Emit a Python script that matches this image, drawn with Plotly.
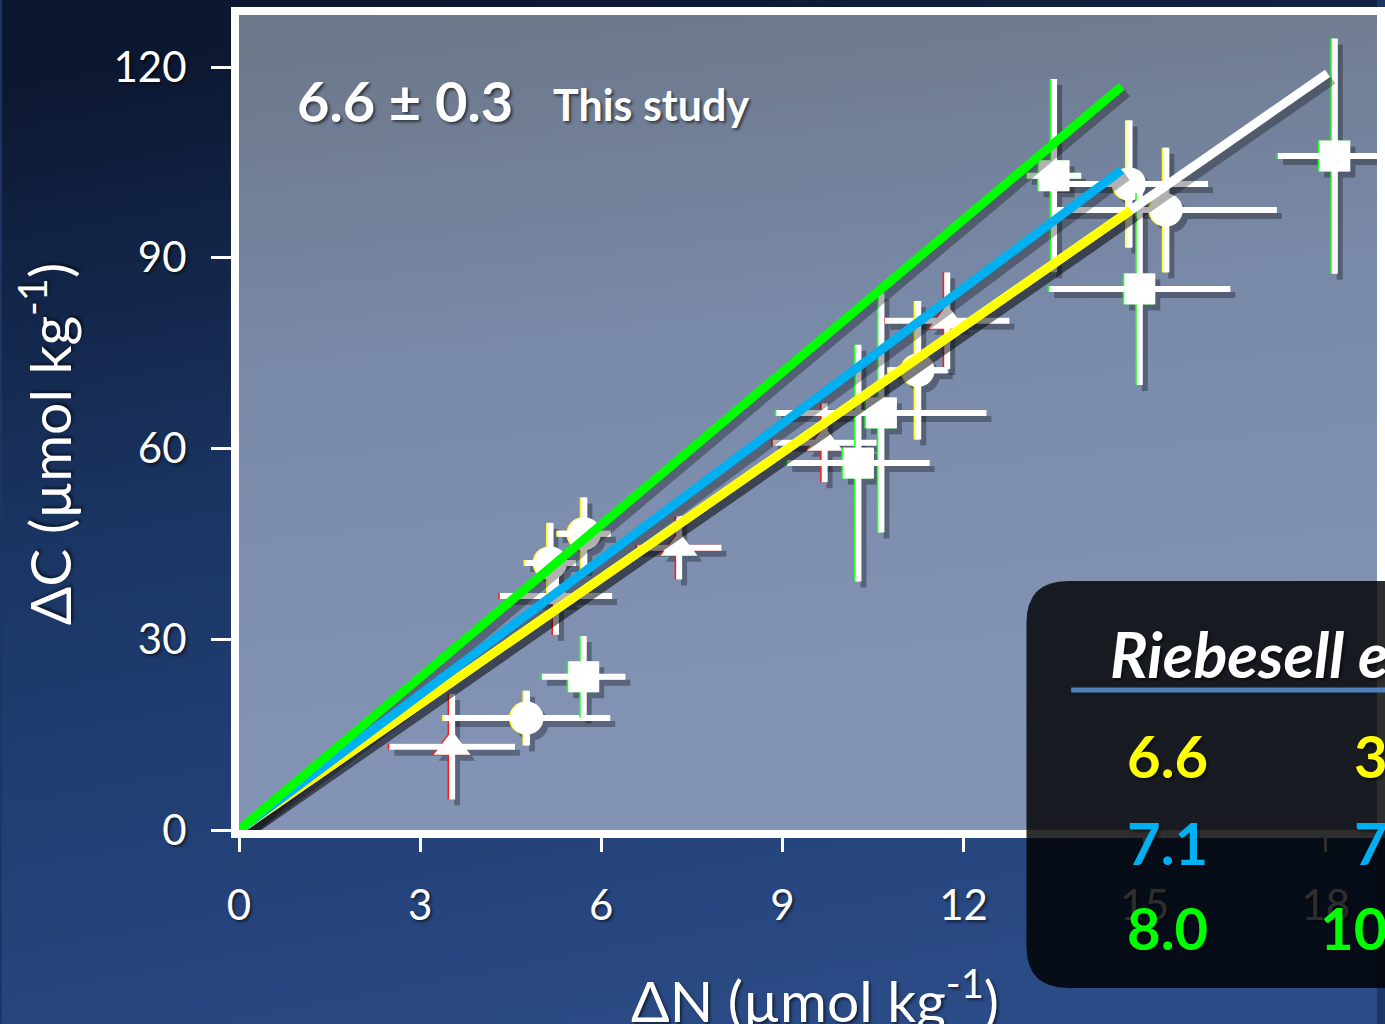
import base64
import plotly.graph_objects as go

# ---------------- data ----------------
# ΔN / ΔC pairs (µmol kg-1) with 1-sigma uncertainties, one list per symbol group
tri_x = [3.53, 5.25, 7.29, 9.70, 11.73]
tri_y = [13.1, 36.8, 44.4, 60.9, 80.1]
tri_xerr = [1.04, 0.93, 0.70, 0.86, 1.03]
tri_yerr = [8.3, 6.1, 5.0, 6.2, 7.6]

circ_x = [4.77, 5.16, 5.72, 11.25, 14.75, 15.36]
circ_y = [17.6, 42.0, 46.6, 72.3, 101.6, 97.5]
circ_xerr = [1.38, 0.42, 0.44, 0.49, 1.30, 1.83]
circ_yerr = [4.3, 6.3, 5.7, 10.9, 10.0, 9.8]

sq_x = [5.71, 10.26, 10.64, 13.50, 14.92, 18.15]
sq_y = [24.1, 57.7, 65.6, 102.9, 85.1, 106.0]
sq_xerr = [0.69, 1.18, 1.74, 0.45, 1.50, 0.94]
sq_yerr = [6.4, 18.6, 18.8, 15.2, 15.1, 18.5]

# C:N uptake slopes through the origin
fit_slopes = [6.6, 6.6, 7.1, 8.0]           # this study, Riebesell 350 / 700 / 1050 µatm
fit_xmax = [18.03, 14.77, 14.62, 14.62]
fit_colors = ["#ffffff", "#ffff00", "#00b0f0", "#00ff00"]

study_slope = "6.6 ± 0.3"
ratio_labels = ["6.6", "7.1", "8.0"]
co2_labels = ["350", "700", "1050"]
ratio_colors = ["#ffff00", "#00b0f0", "#00ff00"]

x_ticks = [0, 3, 6, 9, 12, 15, 18]
y_ticks = [0, 30, 60, 90, 120]

# ---------------- geometry ----------------
W, H = 1385, 1024
L, B, T = 239, 194, 15
plot_w = W - L
plot_h = H - B - T
px_per_x = 60.8
px_per_y = (H - B - 67) / 120.0
XMAX = plot_w / px_per_x
YMAX = plot_h / px_per_y


def paper(px, py):
    return (px - L) / plot_w, (H - B - py) / plot_h


FONT = "Lato"
SHADOW = "2px 2px 3px rgba(0,0,0,0.55)"

# drop-shadow offset (in data units) for marks
sdx = 5 / px_per_x
sdy = 6 / px_per_y
edge_dx = 1.6 / px_per_x

fig = go.Figure()

groups = [
    (tri_x, tri_y, tri_xerr, tri_yerr, "triangle-up", 32, "#ff1a1a"),
    (circ_x, circ_y, circ_xerr, circ_yerr, "circle", 33, "#ffff33"),
    (sq_x, sq_y, sq_xerr, sq_yerr, "square", 31, "#22ff22"),
]


def add_points(xs, ys, xe, ye, sym, size, color, opacity=1.0):
    fig.add_trace(go.Scatter(
        x=xs, y=ys, mode="markers",
        error_x=dict(type="data", array=xe, color=color, thickness=6, width=0),
        error_y=dict(type="data", array=ye, color=color, thickness=6, width=0),
        marker=dict(symbol=sym, size=size, color=color, line=dict(width=0)),
        opacity=opacity, hoverinfo="skip", showlegend=False,
    ))


# shadows of the points
for xs, ys, xe, ye, sym, size, col in groups:
    add_points([v + sdx for v in xs], [v - sdy for v in ys], xe, ye, sym, size, "#000000", 0.3)
# coloured rims, then white symbols with error bars
for xs, ys, xe, ye, sym, size, col in groups:
    add_points([v - edge_dx for v in xs], ys, xe, ye, sym, size, col)
    add_points(xs, ys, xe, ye, sym, size, "#ffffff")

# regression lines: shadows first, then the lines
for k, xm in zip(fit_slopes, fit_xmax):
    fig.add_trace(go.Scatter(
        x=[0 + sdx, xm + sdx], y=[0 - sdy, k * xm - sdy], mode="lines",
        line=dict(color="black", width=10), opacity=0.3,
        hoverinfo="skip", showlegend=False,
    ))
for k, xm, c in zip(fit_slopes, fit_xmax, fit_colors):
    fig.add_trace(go.Scatter(
        x=[0, xm], y=[0, k * xm], mode="lines",
        line=dict(color=c, width=9),
        hoverinfo="skip", showlegend=False,
    ))

# ---------------- backgrounds ----------------
def svg_uri(svg):
    return "data:image/svg+xml;base64," + base64.b64encode(svg.encode()).decode()


page_svg = (
    '<svg xmlns="http://www.w3.org/2000/svg" width="1385" height="1024" '
    'viewBox="0 0 1385 1024" preserveAspectRatio="none"><defs>'
    '<linearGradient id="g" x1="0.3" y1="0" x2="0.55" y2="1">'
    '<stop offset="0" stop-color="#0c1730"/>'
    '<stop offset="0.45" stop-color="#1b3665"/>'
    '<stop offset="1" stop-color="#2b4b86"/>'
    '</linearGradient></defs><rect width="1385" height="1024" fill="url(#g)"/></svg>'
)
plot_svg = (
    '<svg xmlns="http://www.w3.org/2000/svg" width="100" height="100" '
    'viewBox="0 0 100 100" preserveAspectRatio="none"><defs>'
    '<linearGradient id="p" x1="0" y1="0" x2="0.15" y2="1">'
    '<stop offset="0" stop-color="#6b7687"/>'
    '<stop offset="0.45" stop-color="#798aa9"/>'
    '<stop offset="1" stop-color="#8394b6"/>'
    '</linearGradient></defs><rect width="100" height="100" fill="url(#p)"/></svg>'
)

px0, py0 = paper(0, 0)
images = [
    dict(source=svg_uri(page_svg), xref="paper", yref="paper", x=px0, y=py0,
         sizex=W / plot_w, sizey=H / plot_h, xanchor="left", yanchor="top",
         sizing="stretch", layer="below"),
    dict(source=svg_uri(plot_svg), xref="paper", yref="paper", x=0, y=1,
         sizex=1, sizey=1, xanchor="left", yanchor="top",
         sizing="stretch", layer="below"),
]

# ---------------- legend panel ----------------
bx0, by0 = paper(1032, 581)
bx1, by1 = paper(1420, 988)
rx = 42 / plot_w
ry = 42 / plot_h
panel_path = (
    f"M {bx0 + rx},{by0} L {bx1},{by0} L {bx1},{by1} L {bx0 + rx},{by1} "
    f"Q {bx0},{by1} {bx0},{by1 + ry} L {bx0},{by0 - ry} Q {bx0},{by0} {bx0 + rx},{by0} Z"
)
ux0, uy = paper(1077, 690)
ux1, _ = paper(1420, 690)
shapes = [
    dict(type="path", path=panel_path, xref="paper", yref="paper",
         fillcolor="black", opacity=0.82, line=dict(width=0), layer="above"),
    dict(type="line", xref="paper", yref="paper", x0=ux0, x1=ux1, y0=uy, y1=uy,
         line=dict(color="#4f81bd", width=5), layer="above"),
]

annotations = []


def ann(text, px, py, size, color="white", xanchor="center", angle=0, bold=False):
    x, y = paper(px, py)
    annotations.append(dict(
        text=text, x=x, y=y, xref="paper", yref="paper", showarrow=False,
        xanchor=xanchor, yanchor="middle", textangle=angle,
        font=dict(family=FONT, size=size, color=color, shadow=SHADOW,
                  weight="bold" if bold else "normal"),
    ))


ann(study_slope, 295, 101, 56, xanchor="left", bold=True)
ann("This study", 553, 104, 43, xanchor="left", bold=True)
ann("ΔC (µmol kg<sup>-1</sup>)", 44, 444, 57, angle=-90)
ann("ΔN (µmol kg<sup>-1</sup>)", 819, 997, 57)
ann("<i>Riebesell et al.</i>", 1114, 653, 63, xanchor="left", bold=True)
for lab, co2, col, py in zip(ratio_labels, co2_labels, ratio_colors, [755, 843, 927]):
    ann(lab, 1174, py, 58, color=col, bold=True)
    ann(co2, 1466, py, 58, color=col, xanchor="right", bold=True)

axis_common = dict(
    showline=True, linecolor="white", linewidth=8, mirror=True,
    showgrid=False, zeroline=False, ticks="outside", tickcolor="white",
    tickwidth=2.5, tickfont=dict(family=FONT, size=42, color="white", shadow=SHADOW),
)

fig.update_layout(
    width=W, height=H,
    margin=dict(l=L, r=0, t=T, b=B, pad=0),
    paper_bgcolor="#1b3665", plot_bgcolor="#7a8aa9",
    showlegend=False,
    images=images, shapes=shapes, annotations=annotations,
    xaxis=dict(range=[0, XMAX], tickvals=x_ticks, ticklen=14,
               ticklabelstandoff=18, **axis_common),
    yaxis=dict(range=[0, YMAX], tickvals=y_ticks, ticklen=20,
               ticklabelstandoff=16, **axis_common),
)

fig.write_html("out.html")
